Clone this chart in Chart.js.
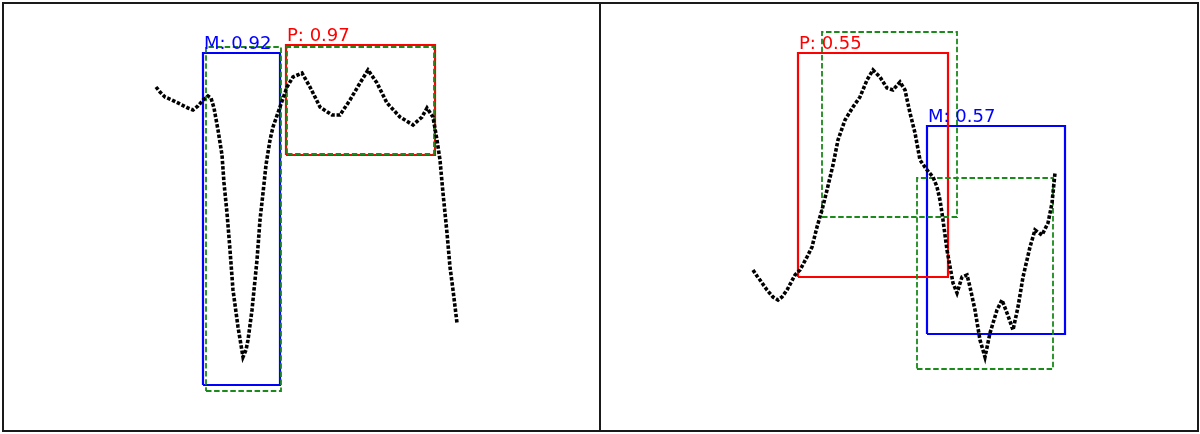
<!DOCTYPE html>
<html>
<head>
<meta charset="utf-8">
<script src="https://cdn.jsdelivr.net/npm/chart.js@4/dist/chart.umd.min.js"></script>
<style>
  html, body { margin: 0; padding: 0; background: #fff; }
  body { width: 1200px; height: 434px; position: relative; overflow: hidden; }
  .frame { position: absolute; top: 2px; height: 430px; box-sizing: border-box; border: 2px solid #1a1a1a; }
  .panel { position: absolute; top: 2px; height: 430px; }
  .panel canvas { width: 100%; height: 100%; }
</style>
</head>
<body>
<div class="frame" style="left:2px;width:599px"></div>
<div class="frame" style="left:599px;width:600px"></div>
<div class="panel" style="left:2px;width:599px"><canvas id="leftChart"></canvas></div>
<div class="panel" style="left:599px;width:600px"><canvas id="rightChart"></canvas></div>
<script>
// 1. DATA (panel units, y grows upwards)
const leftX = [154,158,163,170,178,186,191,196,201,206,209,212,216,220,222,225,228,231,236,239,241,244,246,250,253,255,258,261,264,268,271,278,285,291,300,308,318,330,338,348,358,366,375,385,398,411,420,425,431,435,438,441,445,448,451,455];
const leftY = [345,340,335,332,328,324,322,326,332,336,334,324,302,277,249,219,182,142,105,87,75,82,92,122,152,172,212,239,267,292,305,325,345,355,359,345,325,317,317,332,349,362,349,329,315,307,315,324,315,292,272,239,199,165,142,109];

const rightX = [154,158,161,168,174,179,183,188,196,201,208,213,218,223,228,234,239,246,254,261,268,274,281,288,294,301,306,311,316,321,328,334,338,341,344,348,354,358,363,368,371,376,381,386,391,398,403,408,414,419,424,431,436,443,449,453,456];
const rightY = [162,156,152,142,135,132,135,142,157,162,175,185,205,222,242,267,292,312,325,335,352,362,355,344,342,350,342,319,299,272,262,255,245,232,212,182,149,139,155,157,145,122,92,75,99,122,132,119,102,125,155,185,202,197,209,229,259];

// boxes: [x0, y0, x1, y1]
const leftPred = { M: [201,47,278,379], P: [284,277,433,387] };
const leftTruth = [[204,41,279,385],[285,278,432,385]];
const leftScores = { M: 0.92, P: 0.97 };

const rightPred = { P: [199,155,349,379], M: [328,98,466,306] };
const rightTruth = [[223,215,358,400],[318,63,454,254]];
const rightScores = { P: 0.55, M: 0.57 };

const classColor = { M: '#0000ff', P: '#ff0000' };

// 2. HELPERS
function boxPath(b) {
    return [{x:b[0],y:b[1]},{x:b[2],y:b[1]},{x:b[2],y:b[3]},{x:b[0],y:b[3]},{x:b[0],y:b[1]}];
}

function buildChart(id, xs, ys, pred, truth, scores, width) {
    const datasets = [{
        data: xs.map((x, i) => ({ x: x, y: ys[i] })),
        showLine: true,
        borderColor: '#000',
        borderWidth: 3.6,
        borderDash: [3.5, 1.8],
        borderCapStyle: 'butt',
        pointRadius: 0,
        order: 0
    }];
    truth.forEach(b => datasets.push({
        data: boxPath(b), showLine: true, borderColor: '#1a8a1a', borderWidth: 1.8,
        borderDash: [5.5, 2.6], pointRadius: 0, order: 1
    }));
    Object.keys(pred).forEach(k => datasets.push({
        data: boxPath(pred[k]), showLine: true, borderColor: classColor[k], borderWidth: 2.2,
        pointRadius: 0, order: 2, label: k
    }));

    const labelPlugin = {
        id: 'boxLabels',
        afterDatasetsDraw(chart) {
            const c = chart.ctx, sx = chart.scales.x, sy = chart.scales.y;
            c.save();
            c.font = '18px "DejaVu Sans"';
            c.textBaseline = 'alphabetic';
            Object.keys(pred).forEach(k => {
                const b = pred[k];
                c.fillStyle = classColor[k];
                c.fillText(k + ': ' + scores[k].toFixed(2), sx.getPixelForValue(b[0]) + 1, sy.getPixelForValue(b[3]) - 4);
            });
            c.restore();
        }
    };

    return new Chart(document.getElementById(id), {
        type: 'scatter',
        data: { datasets },
        options: {
            responsive: true,
            maintainAspectRatio: false,
            animation: false,
            layout: { padding: 0 },
            plugins: { legend: { display: false }, tooltip: { enabled: false } },
            scales: {
                x: { display: false, min: 0, max: width },
                y: { display: false, min: 0, max: 430 }
            }
        },
        plugins: [labelPlugin]
    });
}

// 3. CHARTS
buildChart('leftChart', leftX, leftY, leftPred, leftTruth, leftScores, 599);
buildChart('rightChart', rightX, rightY, rightPred, rightTruth, rightScores, 600);
</script>
</body>
</html>
